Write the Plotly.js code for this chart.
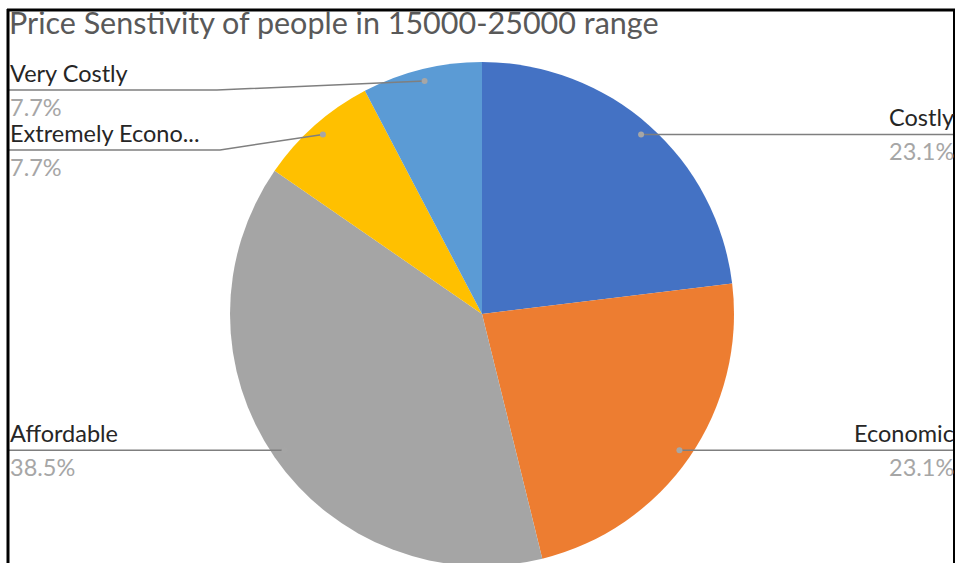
<!DOCTYPE html>
<html>
<head>
<meta charset="utf-8">
<script src="https://cdn.plot.ly/plotly-3.0.1.min.js"></script>
<style>
  html, body { margin: 0; padding: 0; overflow: hidden; background: #fff; }
  #chart { width: 957px; height: 600px; }
</style>
</head>
<body>
<div id="chart"></div>
<script>
// ---- data ----
const categories = ["Costly", "Economic", "Affordable", "Extremely Economic", "Very Costly"];
const displayLabels = ["Costly", "Economic", "Affordable", "Extremely Econo...", "Very Costly"];
const counts = [3, 3, 5, 1, 1];
const colors = ["#4472C4", "#ED7D31", "#A5A5A5", "#FFC000", "#5B9BD5"];
const chartTitle = "Price Senstivity of people in 15000-25000 range";

// ---- label placement (Excel-style callouts) ----
const placement = {
  side:   ["right", "right", "left", "left", "left"],
  elbowX: [null, null, null, 220, 217],   // px; null = straight horizontal line
  lineY:  [null, null, null, 150, 90]     // px; null = same height as the dot
};

const W = 957, H = 600;
const cx = 482, cy = 314, R = 252;
const dotFrac = 0.952;
const leftEnd = 8, rightEnd = 955;

const px2x = p => p / W;
const px2y = p => 1 - p / H;

const total = counts.reduce((a, b) => a + b, 0);
const shapes = [];
const annotations = [];
const font = "Lato, 'Open Sans', sans-serif";

let cum = 0;
counts.forEach((v, i) => {
  const mid = (cum + v / 2) / total * 2 * Math.PI;
  cum += v;
  const dx = cx + R * dotFrac * Math.sin(mid);
  const dy = cy - R * dotFrac * Math.cos(mid);
  const ly = placement.lineY[i] === null ? dy : placement.lineY[i];
  const side = placement.side[i];
  const endX = side === "right" ? rightEnd : leftEnd;
  let path = `M ${px2x(dx)} ${px2y(dy)}`;
  if (placement.elbowX[i] !== null) {
    path += ` L ${px2x(placement.elbowX[i])} ${px2y(ly)}`;
  }
  path += ` L ${px2x(endX)} ${px2y(ly)}`;
  shapes.push({type: "path", xref: "paper", yref: "paper", path: path,
               line: {color: "#7F7F7F", width: 1.5}});
  shapes.push({type: "circle", xref: "paper", yref: "paper",
               x0: px2x(dx - 3), x1: px2x(dx + 3), y0: px2y(dy + 3), y1: px2y(dy - 3),
               fillcolor: "#A6A6A6", line: {width: 0}});
  const tx = side === "right" ? px2x(955) : px2x(9);
  const xa = side === "right" ? "right" : "left";
  annotations.push({xref: "paper", yref: "paper", x: tx, y: px2y(ly - 2), xanchor: xa, yanchor: "bottom",
                    text: displayLabels[i], showarrow: false, borderpad: 0,
                    font: {family: font, size: 23.5, color: "#262626"}});
  annotations.push({xref: "paper", yref: "paper", x: tx, y: px2y(ly + 2), xanchor: xa, yanchor: "top",
                    text: (v / total * 100).toFixed(1) + "%", showarrow: false, borderpad: 0,
                    font: {family: font, size: 23.5, color: "#A6A6A6"}});
});

// chart border (cropped Excel chart frame)
shapes.push({type: "line", xref: "paper", yref: "paper", x0: px2x(8), x1: px2x(8), y0: 0, y1: px2y(9),
             line: {color: "#000", width: 3}});
shapes.push({type: "line", xref: "paper", yref: "paper", x0: px2x(7), x1: px2x(955), y0: px2y(10), y1: px2y(10),
             line: {color: "#000", width: 3}});
shapes.push({type: "line", xref: "paper", yref: "paper", x0: px2x(954), x1: px2x(954), y0: 0, y1: px2y(10),
             line: {color: "#000", width: 2}});

const trace = {
  type: "pie",
  labels: categories,
  values: counts,
  sort: false,
  direction: "clockwise",
  rotation: 0,
  textinfo: "none",
  hoverinfo: "label+percent",
  marker: {colors: colors, line: {width: 0}},
  domain: {x: [px2x(cx - R), px2x(cx + R)], y: [px2y(cy + R), px2y(cy - R)]},
  showlegend: false
};

const layout = {
  width: W, height: H,
  margin: {l: 0, r: 0, t: 0, b: 0},
  paper_bgcolor: "#fff",
  title: {text: chartTitle, x: px2x(9), xanchor: "left", xref: "paper",
          y: px2y(23), yref: "container", yanchor: "middle",
          font: {family: font, size: 30.5, color: "#595959"}},
  shapes: shapes,
  annotations: annotations
};

Plotly.newPlot("chart", [trace], layout, {displayModeBar: false, staticPlot: true});
</script>
</body>
</html>
